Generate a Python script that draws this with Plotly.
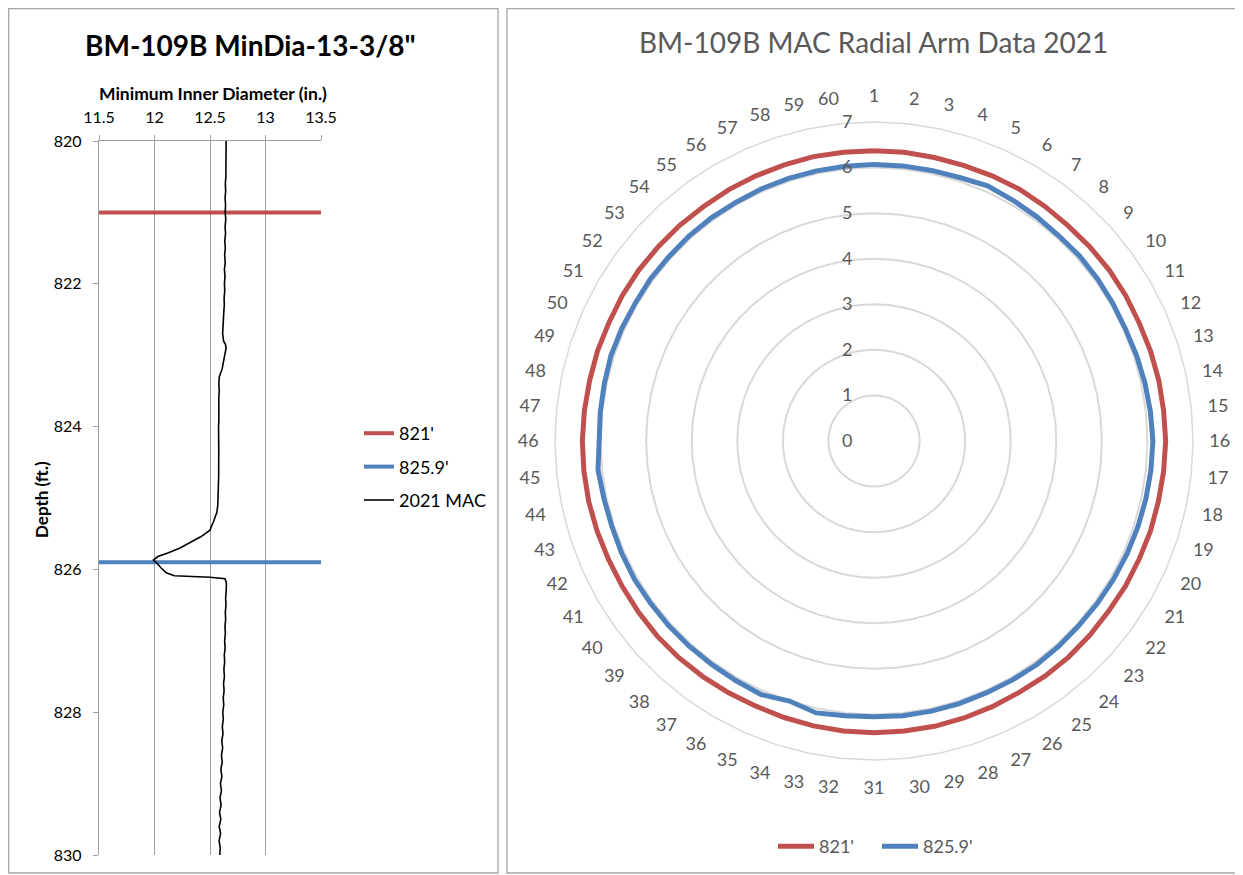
import plotly.graph_objects as go

W, H = 1243, 875
OFF = 8  # page body margin offset of the figure

# ---------------- Left chart data ----------------
mac_depth = [820.0, 820.1, 820.2, 820.3, 820.4, 820.5, 820.6, 820.7, 820.8, 820.9,
             821.0, 821.1, 821.2, 821.3, 821.4, 821.5, 821.6, 821.7, 821.8, 821.9,
             822.0, 822.1, 822.2, 822.3, 822.4, 822.5, 822.6, 822.7, 822.8, 822.85,
             822.9, 823.0, 823.1, 823.2, 823.25, 823.3, 823.4, 823.5, 823.6, 823.7,
             823.8, 823.9, 824.0, 824.1, 824.2, 824.3, 824.4, 824.5, 824.6, 824.7,
             824.8, 824.9, 825.0, 825.1, 825.2, 825.26, 825.33, 825.4, 825.45, 825.54,
             825.63, 825.7, 825.77, 825.82, 825.87, 825.91, 825.98, 826.05, 826.09, 826.11,
             826.13, 826.19, 826.3, 826.4, 826.5, 826.6, 826.7, 826.8, 826.9, 827.0,
             827.1, 827.2, 827.3, 827.4, 827.5, 827.6, 827.7, 827.8, 827.9, 828.0,
             828.1, 828.2, 828.3, 828.4, 828.5, 828.6, 828.7, 828.8, 828.9, 829.0,
             829.1, 829.2, 829.3, 829.4, 829.5, 829.6, 829.7, 829.8, 829.9, 830.0]
mac_dia = [12.645, 12.645, 12.643, 12.645, 12.640, 12.643, 12.638, 12.641, 12.636, 12.640,
           12.637, 12.642, 12.636, 12.640, 12.633, 12.638, 12.632, 12.637, 12.630, 12.635,
           12.630, 12.633, 12.627, 12.629, 12.624, 12.622, 12.616, 12.614, 12.622, 12.640,
           12.645, 12.634, 12.622, 12.608, 12.596, 12.584, 12.580, 12.583, 12.579, 12.581,
           12.578, 12.580, 12.577, 12.580, 12.578, 12.579, 12.577, 12.579, 12.578, 12.578,
           12.577, 12.576, 12.574, 12.570, 12.562, 12.550, 12.532, 12.512, 12.500, 12.420,
           12.320, 12.230, 12.120, 12.030, 11.990, 12.020, 12.060, 12.110, 12.180, 12.500,
           12.635, 12.648, 12.646, 12.641, 12.644, 12.638, 12.641, 12.635, 12.638, 12.632,
           12.636, 12.629, 12.632, 12.625, 12.630, 12.622, 12.627, 12.619, 12.624, 12.615,
           12.620, 12.611, 12.617, 12.606, 12.614, 12.603, 12.610, 12.598, 12.607, 12.594,
           12.603, 12.590, 12.600, 12.586, 12.597, 12.583, 12.595, 12.582, 12.592, 12.588]
mark_depths = [821.0, 825.9]
mark_names = ["821'", "825.9'"]
x_ticks = [11.5, 12, 12.5, 13, 13.5]
x_ticktext = ["11.5", "12", "12.5", "13", "13.5"]
y_ticks = [820, 822, 824, 826, 828, 830]

# ---------------- Right chart data ----------------
arms = [str(i) for i in range(1, 61)]
r_821 = [6.37, 6.37, 6.36, 6.36, 6.37, 6.38, 6.37, 6.36, 6.37, 6.38,
         6.38, 6.37, 6.38, 6.39, 6.39, 6.40, 6.39, 6.38, 6.38, 6.37,
         6.37, 6.36, 6.37, 6.38, 6.38, 6.37, 6.38, 6.39, 6.40, 6.40,
         6.40, 6.40, 6.39, 6.38, 6.37, 6.38, 6.39, 6.40, 6.40, 6.39,
         6.38, 6.38, 6.39, 6.40, 6.40, 6.40, 6.39, 6.38, 6.38, 6.37,
         6.38, 6.38, 6.37, 6.37, 6.36, 6.37, 6.37, 6.37, 6.38, 6.37]
r_8259 = [6.07, 6.07, 6.07, 6.08, 6.13, 6.10, 6.08, 6.06, 6.07, 6.06,
          6.05, 6.04, 6.06, 6.08, 6.10, 6.12, 6.11, 6.10, 6.09, 6.08,
          6.07, 6.06, 6.05, 6.06, 6.07, 6.06, 6.05, 6.06, 6.06, 6.06,
          6.05, 6.06, 6.10, 6.00, 6.09, 6.07, 6.06, 6.06, 6.06, 6.06,
          6.07, 6.06, 6.05, 6.06, 6.09, 6.03, 6.04, 6.05, 6.07, 6.06,
          6.05, 6.06, 6.05, 6.06, 6.06, 6.05, 6.06, 6.06, 6.06, 6.06]

RED = "#C0504D"
BLUE = "#4F81BD"
GRAY_TXT = "#595959"
FONT = "Lato"
NB = "\u00a0"

def px(x):
    return (x - OFF) / W

def py(y):
    return 1 - (y - OFF) / H

fig = go.Figure()

# Left chart traces
fig.add_trace(go.Scatter(x=[x_ticks[0], x_ticks[-1]], y=[mark_depths[0]] * 2, mode="lines",
                         line=dict(color=RED, width=4), name=mark_names[0],
                         legend="legend", legendgroup="a", xaxis="x", yaxis="y"))
fig.add_trace(go.Scatter(x=[x_ticks[0], x_ticks[-1]], y=[mark_depths[1]] * 2, mode="lines",
                         line=dict(color=BLUE, width=4), name=mark_names[1],
                         legend="legend", legendgroup="b", xaxis="x", yaxis="y"))
fig.add_trace(go.Scatter(x=mac_dia, y=mac_depth, mode="lines",
                         line=dict(color="black", width=1.6), name="2021 MAC",
                         legend="legend", legendgroup="c", xaxis="x", yaxis="y"))

# Right chart traces (closed loops)
fig.add_trace(go.Scatterpolar(r=r_821 + r_821[:1], theta=arms + arms[:1], mode="lines",
                              line=dict(color=RED, width=5), name=mark_names[0],
                              legend="legend2", subplot="polar"))
fig.add_trace(go.Scatterpolar(r=r_8259 + r_8259[:1], theta=arms + arms[:1], mode="lines",
                              line=dict(color=BLUE, width=5), name=mark_names[1],
                              legend="legend2", subplot="polar"))

fig.update_layout(
    width=W, height=H,
    margin=dict(l=0, r=0, t=0, b=0, autoexpand=False),
    paper_bgcolor="white", plot_bgcolor="white",
    font=dict(family=FONT, color="black"),
    xaxis=dict(domain=[px(99), px(321)], anchor="y", side="top",
               range=[11.5, 13.5], tickvals=x_ticks, ticktext=x_ticktext,
               showgrid=True, gridcolor="#A0A0A0", gridwidth=1.3,
               showline=True, linecolor="#A0A0A0", linewidth=1.3,
               ticks="outside", ticklen=5, tickcolor="#A0A0A0",
               tickfont=dict(size=16, family=FONT, color="black"),
               ticklabelstandoff=5, zeroline=False, fixedrange=True, automargin=False),
    yaxis=dict(domain=[py(855), py(141)], anchor="x",
               range=[830, 820], tickvals=y_ticks,
               showgrid=False, showline=True, linecolor="#A0A0A0", linewidth=1.3,
               ticks="outside", ticklen=5, tickcolor="#A0A0A0",
               tickfont=dict(size=16, family=FONT, color="black"),
               ticklabelstandoff=8, zeroline=False, fixedrange=True, automargin=False),
    legend=dict(x=px(359), y=py(415), xanchor="left", yanchor="top",
                font=dict(size=18, family=FONT, color="black"),
                tracegroupgap=7, traceorder="grouped", bgcolor="rgba(0,0,0,0)"),
    legend2=dict(orientation="h", x=px(877), y=py(828), xanchor="center", yanchor="top",
                 entrywidth=53, entrywidthmode="pixels", itemwidth=36,
                 font=dict(size=18, family=FONT, color=GRAY_TXT), bgcolor="rgba(0,0,0,0)"),
    polar=dict(
        domain=dict(x=[px(555), px(1193)], y=[py(760), py(122)]),
        bgcolor="white", gridshape="linear",
        angularaxis=dict(type="category", categoryarray=arms, rotation=90, direction="clockwise",
                         showgrid=False, showline=True, linecolor="#D9D9D9", linewidth=1.5,
                         ticks="outside", ticklen=12, tickcolor="rgba(0,0,0,0)",
                         tickfont=dict(size=18, family=FONT, color=GRAY_TXT)),
        radialaxis=dict(range=[0, 7], dtick=1, angle=90, tickangle=90, side="counterclockwise",
                        showline=False, showgrid=True, gridcolor="#D9D9D9", gridwidth=1.5,
                        ticks="", ticksuffix=NB * 4,
                        tickfont=dict(size=18, family=FONT, color=GRAY_TXT)),
    ),
    shapes=[
        dict(type="rect", xref="paper", yref="paper", x0=px(8.7), x1=px(498), y0=py(873), y1=py(8.7),
             line=dict(color="#A6A6A6", width=1.3), fillcolor="rgba(0,0,0,0)"),
        dict(type="rect", xref="paper", yref="paper", x0=px(507), x1=px(1238), y0=py(873), y1=py(8.7),
             line=dict(color="#A6A6A6", width=1.3), fillcolor="rgba(0,0,0,0)"),
    ],
    annotations=[
        dict(text="<b>BM-109B MinDia-13-3/8\"</b>", x=px(250), y=py(45), xref="paper", yref="paper",
             xanchor="center", yanchor="middle",
             showarrow=False, font=dict(size=28, family=FONT, color="black")),
        dict(text="<b>Minimum Inner Diameter (in.)</b>", x=px(213), y=py(93), xref="paper", yref="paper",
             xanchor="center", yanchor="middle",
             showarrow=False, font=dict(size=17.5, family=FONT, color="black")),
        dict(text="<b>Depth (ft.)</b>", x=px(41), y=py(500), xref="paper", yref="paper",
             xanchor="center", yanchor="middle",
             showarrow=False, textangle=-90, font=dict(size=17, family=FONT, color="black")),
        dict(text="BM-109B MAC Radial Arm Data 2021", x=px(873), y=py(42), xref="paper", yref="paper",
             xanchor="center", yanchor="middle",
             showarrow=False, font=dict(size=28, family=FONT, color=GRAY_TXT)),
    ],
)

fig.write_html("out.html")
